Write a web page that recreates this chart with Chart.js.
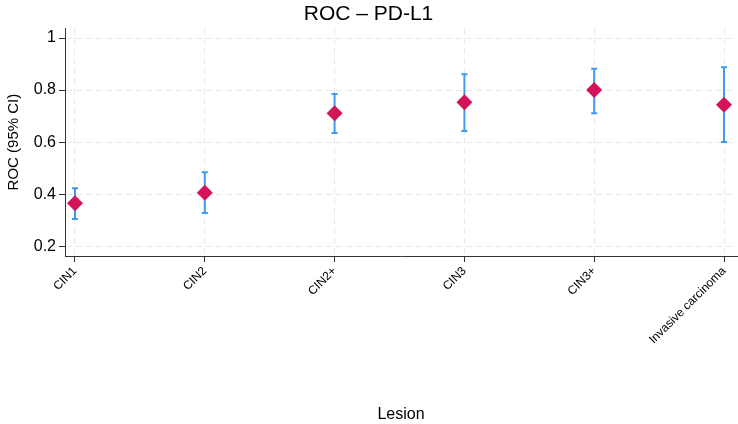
<!DOCTYPE html>
<html>
<head>
<meta charset="utf-8">
<script src="https://cdn.jsdelivr.net/npm/chart.js@4/dist/chart.umd.min.js"></script>
<style>
  html, body { margin: 0; padding: 0; background: #fff; }
  #wrap { width: 738px; height: 424px; }
</style>
</head>
<body>
<div id="wrap"><canvas id="rocchart"></canvas></div>
<script>
const lesions = ['CIN1', 'CIN2', 'CIN2+', 'CIN3', 'CIN3+', 'Invasive carcinoma'];
const rocValues = [0.365, 0.405, 0.711, 0.753, 0.800, 0.744];
const ciLower = [0.304, 0.327, 0.635, 0.643, 0.711, 0.600];
const ciUpper = [0.423, 0.484, 0.785, 0.861, 0.882, 0.888];
const yTicks = [0.2, 0.4, 0.6, 0.8, 1];

const fontFamily = "'Liberation Sans', Arial, Helvetica, sans-serif";
const gridColor = '#e8e8e8';

// error bars drawn behind the diamonds
const errorBars = {
  id: 'errorBars',
  beforeDatasetsDraw(chart) {
    const ctx = chart.ctx;
    const xs = chart.scales.x;
    const ys = chart.scales.y;
    ctx.save();
    ctx.strokeStyle = '#3d9af0';
    ctx.lineWidth = 2;
    lesions.forEach((name, i) => {
      const x = xs.getPixelForValue(i);
      const top = ys.getPixelForValue(ciUpper[i]);
      const bottom = ys.getPixelForValue(ciLower[i]);
      ctx.beginPath();
      ctx.moveTo(x, top);
      ctx.lineTo(x, bottom);
      ctx.moveTo(x - 3, top);
      ctx.lineTo(x + 3, top);
      ctx.moveTo(x - 3, bottom);
      ctx.lineTo(x + 3, bottom);
      ctx.stroke();
    });
    ctx.restore();
  }
};

new Chart(document.querySelector('#rocchart'), {
  type: 'scatter',
  data: {
    datasets: [{
      data: rocValues.map((v, i) => ({ x: i, y: v })),
      pointStyle: 'rectRot',
      pointRadius: 8,
      pointHoverRadius: 8,
      backgroundColor: '#d4145a',
      borderColor: '#d4145a',
      borderWidth: 0
    }]
  },
  options: {
    responsive: true,
    maintainAspectRatio: false,
    animation: false,
    layout: { autoPadding: false, padding: { left: 0, right: 1, top: 0, bottom: 0 } },
    scales: {
      x: {
        type: 'linear',
        min: -0.077,
        max: 5.1,
        afterBuildTicks: axis => {
          axis.ticks = lesions.map((n, i) => ({ value: i }));
        },
        afterFit: axis => {
          axis.height = 168;
          axis.paddingLeft = 0;
          axis.paddingRight = 0;
        },
        ticks: {
          minRotation: 45,
          maxRotation: 45,
          autoSkip: false,
          padding: 2,
          color: '#000',
          font: { family: fontFamily, size: 12 },
          callback: v => lesions[v]
        },
        grid: {
          color: gridColor,
          tickColor: '#333',
          tickLength: 6,
          drawOnChartArea: true
        },
        border: { color: '#333', width: 1, dash: [6, 4] },
        title: {
          display: true,
          text: 'Lesion',
          color: '#000',
          font: { family: fontFamily, size: 16 },
          padding: { top: 0, bottom: 0 }
        }
      },
      y: {
        min: 0.162,
        max: 1.038,
        afterBuildTicks: axis => {
          axis.ticks = yTicks.map(v => ({ value: v }));
        },
        afterFit: axis => { axis.width = 65; },
        ticks: {
          padding: 3,
          color: '#000',
          font: { family: fontFamily, size: 16 },
          callback: v => String(Math.round(v * 10) / 10)
        },
        grid: {
          color: gridColor,
          tickColor: '#333',
          tickLength: 6
        },
        border: { color: '#333', width: 1, dash: [6, 4] },
        title: {
          display: true,
          text: 'ROC (95% CI)',
          color: '#000',
          font: { family: fontFamily, size: 15 },
          padding: { top: 5, bottom: 0 }
        }
      }
    },
    plugins: {
      legend: { display: false },
      tooltip: { enabled: false },
      title: {
        display: true,
        text: 'ROC – PD-L1',
        color: '#000',
        font: { family: fontFamily, size: 21, weight: 'normal' },
        padding: { top: 2, bottom: 1 }
      }
    }
  },
  plugins: [errorBars]
});
</script>
</body>
</html>
